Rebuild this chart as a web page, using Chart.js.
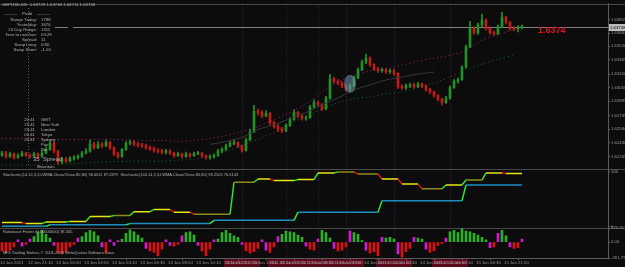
<!DOCTYPE html>
<html><head><meta charset="utf-8">
<script src="https://cdn.jsdelivr.net/npm/chart.js@4.4.0/dist/chart.umd.min.js"></script>
<style>html,body{margin:0;padding:0;background:#0c0c0c;overflow:hidden}</style>
</head><body>
<canvas id="c" width="625" height="267"></canvas>
<script>
// ---------- DATA ----------
const firstOpen = 1.6229;
const closes = [
1.6231,1.6227,1.6230,1.6226,1.6228,1.6231,1.6228,1.6227,1.6230,1.6227,
1.6231,1.6235,1.6242,1.6233,1.6221,1.6224,1.6222,1.6225,1.6226,1.6227,
1.6231,1.6233,1.6241,1.6237,1.6241,1.6239,1.6243,1.6237,1.6230,1.6227,
1.6235,1.6242,1.6243,1.6241,1.6240,1.6239,1.6237,1.6236,1.6234,1.6233,
1.6232,1.6233,1.6231,1.6228,1.6230,1.6227,1.6230,1.6228,1.6230,1.6231,
1.6228,1.6226,1.6227,1.6228,1.6233,1.6235,1.6239,1.6242,1.6243,1.6239,
1.6234,1.6246,1.6255,1.6278,1.6277,1.6273,1.6276,1.6265,1.6261,1.6258,
1.6256,1.6262,1.6269,1.6277,1.6273,1.6270,1.6271,1.6283,1.6288,1.6286,
1.6281,1.6293,1.6315,1.6312,1.6310,1.6307,1.6303,1.6307,1.6316,1.6325,
1.6334,1.6338,1.6331,1.6326,1.6324,1.6325,1.6323,1.6324,1.6321,1.6306,
1.6305,1.6307,1.6308,1.6306,1.6309,1.6307,1.6303,1.6300,1.6296,1.6292,
1.6288,1.6293,1.6305,1.6312,1.6314,1.6328,1.6351,1.6372,1.6367,1.6376,
1.6381,1.6372,1.6367,1.6366,1.6374,1.6385,1.6379,1.6372,1.6371,1.6373,
1.6374];
const highs = [
1.6233,1.6233,1.6232,1.6231,1.6230,1.6233,1.6232,1.6230,1.6232,1.6231,
1.6233,1.6238,1.6245,1.6244,1.6234,1.6226,1.6226,1.6227,1.6228,1.6229,
1.6233,1.6236,1.6246,1.6243,1.6244,1.6243,1.6246,1.6244,1.6238,1.6232,
1.6236,1.6244,1.6246,1.6245,1.6243,1.6242,1.6241,1.6239,1.6238,1.6236,
1.6235,1.6235,1.6235,1.6232,1.6232,1.6231,1.6232,1.6231,1.6232,1.6233,
1.6232,1.6229,1.6229,1.6230,1.6235,1.6237,1.6241,1.6245,1.6246,1.6244,
1.6240,1.6248,1.6258,1.6285,1.6281,1.6279,1.6279,1.6277,1.6267,1.6263,
1.6260,1.6264,1.6271,1.6280,1.6278,1.6275,1.6273,1.6285,1.6291,1.6290,
1.6287,1.6295,1.6320,1.6317,1.6314,1.6312,1.6308,1.6309,1.6318,1.6327,
1.6336,1.6343,1.6340,1.6332,1.6328,1.6327,1.6327,1.6326,1.6326,1.6322,
1.6308,1.6309,1.6310,1.6310,1.6311,1.6310,1.6308,1.6304,1.6301,1.6297,
1.6293,1.6295,1.6307,1.6314,1.6316,1.6330,1.6353,1.6380,1.6374,1.6378,
1.6388,1.6383,1.6374,1.6369,1.6376,1.6390,1.6386,1.6380,1.6374,1.6375,
1.6376];
const lows = [
1.6227,1.6225,1.6226,1.6224,1.6225,1.6227,1.6227,1.6225,1.6226,1.6225,
1.6226,1.6230,1.6234,1.6231,1.6218,1.6219,1.6220,1.6221,1.6223,1.6224,
1.6226,1.6230,1.6232,1.6235,1.6236,1.6237,1.6238,1.6235,1.6228,1.6225,
1.6226,1.6234,1.6240,1.6239,1.6238,1.6237,1.6235,1.6234,1.6232,1.6231,
1.6230,1.6230,1.6229,1.6226,1.6227,1.6225,1.6226,1.6226,1.6227,1.6229,
1.6226,1.6224,1.6224,1.6225,1.6227,1.6231,1.6234,1.6238,1.6240,1.6237,
1.6232,1.6233,1.6245,1.6254,1.6274,1.6271,1.6272,1.6263,1.6259,1.6255,
1.6254,1.6255,1.6261,1.6268,1.6271,1.6268,1.6268,1.6270,1.6282,1.6284,
1.6279,1.6280,1.6292,1.6310,1.6308,1.6305,1.6301,1.6301,1.6306,1.6315,
1.6324,1.6332,1.6329,1.6324,1.6322,1.6322,1.6321,1.6321,1.6319,1.6304,
1.6303,1.6303,1.6305,1.6304,1.6305,1.6305,1.6301,1.6298,1.6294,1.6290,
1.6285,1.6287,1.6292,1.6304,1.6310,1.6313,1.6327,1.6350,1.6365,1.6365,
1.6374,1.6370,1.6365,1.6364,1.6365,1.6373,1.6377,1.6370,1.6369,1.6368,
1.6371];

// moving averages, read at every 4th bar
const maIdx    = [0,4,8,12,16,20,24,28,32,36,40,44,48,52,56,60,64,68,72,76,80,84,88,92,96,100,104,108,112,116,120,124,128];
const maPurple = [1.62474,1.62474,1.62474,1.62463,1.62463,1.62463,1.62463,1.62463,1.62452,1.62452,1.62452,1.62441,1.62452,1.62474,1.62508,1.62553,1.62609,1.62687,1.62766,1.62867,1.63001,1.63113,1.63192,1.63237,1.63259,1.63304,1.63349,1.63382,1.63416,1.63472,1.63584,1.63651,1.63707];
const maGreen  = [1.62172,1.62172,1.62172,1.62178,1.62183,1.62195,1.62206,1.62212,1.62217,1.62217,1.62217,1.62228,1.62239,1.62273,1.62329,1.62396,1.62463,1.62542,1.62642,1.62721,1.62811,1.62878,1.62923,1.62945,1.62979,1.63001,1.63046,1.63102,1.63169,1.63248,1.63315,1.63371,1.63416];
const grayIdx  = [52,56,60,64,68,72,76,80,84,88,92,96,100,104,108];
const maGray   = [1.62407,1.62441,1.62485,1.62575,1.62631,1.62698,1.62766,1.62855,1.62934,1.63024,1.63080,1.63136,1.63169,1.63203,1.63225];

// stochastics (per bar)
const stochFast = [
7,7,7,7,7,7,5,5,5,5,5,8,8,8,8,8,8,9,9,9,9,9,18,18,18,18,18,18,20,20,20,20,20,
27,27,27,27,27,31,31,31,31,31,26,26,26,26,26,22,22,22,22,22,22,22,22,22,22,
81,81,81,81,81,81,87,87,87,87,84,84,84,84,84,84,86,86,86,86,86,98,98,98,98,98,
100,100,100,100,100,96,96,96,96,96,96,87,87,87,87,87,78,78,78,78,78,69,69,69,69,69,69,
76,76,76,76,76,85,85,85,85,85,98,98,98,98,98,97,97,97,97,97];
const stochSlow = [
0,0,0,0,0,0,0,0,0,0,0,0,
3,3,3,3,3,3,3,3,3,3,3,3,3,3,3,3,3,3,3,3,
5,5,5,5,5,5,5,5,5,5,5,5,5,5,5,5,5,5,5,5,5,
11,11,11,11,11,11,11,11,11,11,11,11,11,11,11,11,11,11,11,11,11,
26,26,26,26,26,26,26,26,26,26,26,26,26,26,26,26,26,26,26,26,26,
47,47,47,47,47,47,47,47,47,47,47,47,47,47,47,47,47,47,47,47,47,
76,76,76,76,76,76,76,76,76,76,76,76,76,76,76];

// oscillator histogram (per bar)
const hist = [
-110,-131,-100,-60,30,-50,-30,40,70,130,150,100,50,-40,-130,-150,-120,-60,-30,50,
70,120,150,130,80,-60,-140,30,-40,20,40,110,155,130,90,50,-80,-110,-130,-175,
-90,30,-40,-50,-30,80,120,130,90,-40,-110,-170,-90,30,40,120,150,110,80,60,
-30,-110,-140,-120,-80,30,-100,-130,-60,70,100,140,130,120,90,60,-50,-90,-100,40,
150,120,50,-80,-110,-100,-60,140,120,100,20,-100,-140,-120,-170,60,50,60,40,-150,
-190,-120,-80,60,50,40,-90,-130,-110,-40,-20,50,130,150,120,175,140,130,110,90,
60,30,-70,-60,110,150,80,-60,-80,-70,40];

// axis texts
const priceTicks = [1.63815,1.63664,1.63520,1.63365,1.63200,1.63050,1.62895,1.62735,1.62580,1.62430,1.62265];
const stochTicks = [100, 0];
const histTickLabels = ['170.917','0.00','-261.796'];
const timeLabels = ['10 Jun 2011','12 Jun 21:10','13 Jun 00:50','13 Jun 02:50','13 Jun 04:10','13 Jun 06:30','13 Jun 08:50','13 Jun 10:10',
  '13 Jun 12:30','13 Jun 14:50','13 Jun 17:10','13 Jun 19:30','13 Jun 21:50','14 Jun 00:10','14 Jun 02:30','14 Jun 04:50',
  '14 Jun 07:10','15 Jun 06:30','15 Jun 21:50'];
const sepIdx   = [60, 71, 79, 86, 98, 112];
const sepTimes = ['2011.06.13 20:10','2011.06.14 00:00','2011.06.14 05:00','2011.06.14 09:00','2011.06.14 20:10','2011.06.15 09:00'];
const pivotLineIdx = 6.5;
const highlightBar = 87;

// ---------- STYLE ----------
const UP='#23912a', DN='#c41a1a', BG='#0c0c0c';
const GREEN='#2ee62e', RED='#e01515', YELLOW='#e6e616', OLIVE='#8c8a1c', BLUE='#1c8fc0';
const oliveRuns = [[28,32],[48,57],[58,63],[84,88],[89,94],[105,110],[116,120]];
const isOlive = i => oliveRuns.some(r => i >= r[0] && i < r[1]);

const opens = closes.map((c,i) => i === 0 ? firstOpen : closes[i-1]);
const candleCol = closes.map((c,i) => c >= opens[i] ? UP : DN);
const histCol = hist.map((v,i) => (i>0 && Math.sign(v) !== Math.sign(hist[i-1])) ? '#d21ad2' : (v >= 0 ? '#2fae2a' : '#e00f0f'));

const FONT = 'Liberation Sans';
const tickFont = {family: FONT, size: 4.3};
const TICKC = '#9a9a9a';
const TXT = '#b0b0b0';

const overlay = {
  id: 'overlay',
  beforeDraw(chart) {
    const {ctx, scales:{x, yP, yS, yH}, chartArea:a} = chart;
    ctx.save();
    ctx.fillStyle = BG; ctx.fillRect(0,0,chart.width,chart.height);
    // separators
    ctx.strokeStyle = '#4a1e48'; ctx.lineWidth = 1; ctx.setLineDash([1,2]);
    sepIdx.forEach(i => { const px = Math.round(x.getPixelForValue(i))+0.5; ctx.beginPath(); ctx.moveTo(px, a.top); ctx.lineTo(px, a.bottom); ctx.stroke(); });
    const pl = Math.round(x.getPixelForValue(pivotLineIdx))+0.5;
    ctx.strokeStyle = '#5e5e5e';
    ctx.beginPath(); ctx.moveTo(pl, 8); ctx.lineTo(pl, 165); ctx.stroke();
    ctx.setLineDash([]);
    // pane borders
    ctx.strokeStyle = '#4a4a4a';
    [a.top, yP.bottom, yS.bottom].forEach(y => { ctx.beginPath(); ctx.moveTo(0, Math.round(y)+0.5); ctx.lineTo(chart.width, Math.round(y)+0.5); ctx.stroke(); });
    // current price line
    const cp = Math.round(yP.getPixelForValue(closes[closes.length-1]))+0.5;
    ctx.strokeStyle = '#808080';
    ctx.beginPath(); ctx.moveTo(55,cp); ctx.lineTo(68,cp); ctx.moveTo(73,cp); ctx.lineTo(a.right,cp); ctx.stroke();
    // separator time boxes on the time axis
    ctx.font = `4.3px ${FONT}`; ctx.textBaseline = 'middle'; ctx.textAlign = 'center';
    sepIdx.forEach((i,k) => {
      const px = x.getPixelForValue(i);
      const w = 36;
      ctx.fillStyle = '#5a0a1c'; ctx.fillRect(px - w/2, x.top + 1, w, 8);
      ctx.fillStyle = '#c09098'; ctx.fillText(sepTimes[k], px, x.top + 5);
    });
    ctx.restore();
  },
  afterDatasetsDraw(chart) {
    const {ctx, scales:{x, yP, yS, yH}, chartArea:a} = chart;
    ctx.save();
    // highlight ellipse
    const hx = x.getPixelForValue(highlightBar), hy = yP.getPixelForValue(closes[highlightBar]);
    ctx.fillStyle = 'rgba(110,150,175,0.55)';
    ctx.beginPath(); ctx.ellipse(hx, hy-2, 6, 9, 0, 0, Math.PI*2); ctx.fill();
    // bid label
    const lx = x.getPixelForValue(closes.length-1), ly = yP.getPixelForValue(closes[closes.length-1]);
    ctx.fillStyle = '#e0141e'; ctx.font = `bold 9px ${FONT}`; ctx.textBaseline = 'middle'; ctx.textAlign='left';
    ctx.fillText(closes[closes.length-1].toFixed(4), lx + 16, ly + 4);
    // price box on axis
    ctx.fillStyle = '#bdbdbd'; ctx.fillRect(a.right+1, Math.round(ly)-3, 16, 7);
    ctx.fillStyle = '#000'; ctx.font = `4.3px ${FONT}`;
    ctx.fillText('1.63738', a.right+2, Math.round(ly)+0.5);
    // info block
    ctx.fillStyle = TXT; ctx.font = `4.3px ${FONT}`; ctx.textAlign='left';
    ctx.fillText('GBPUSD,M5  1.63729 1.63748 1.63711 1.63738', 2, 5);
    ctx.textAlign = 'center'; ctx.fillText('———    Profit    ———', 27, 14);
    const infoL = ['Range Today:','Yesterday:','20 Day Range:','Time to next bar:','Spread:','Swap Long:','Swap Short:'];
    const infoV = ['1788','1676','1311','03:29','11','0.80','-1.00'];
    infoL.forEach((t,k) => { ctx.textAlign='right'; ctx.fillText(t, 37, 19.5+k*5.1); ctx.textAlign='left'; ctx.fillText(infoV[k], 41, 19.5+k*5.1); });
    // session clocks
    const clkT = ['20:41','15:41','20:41','05:41','20:41','',''];
    const clkN = ['GMT','New York','London','Tokyo','Sydney','Pair','Bar'];
    clkN.forEach((t,k) => { ctx.textAlign='right'; ctx.fillText(clkT[k], 35, 120+k*5); ctx.textAlign='left'; ctx.fillText(t, 41, 120+k*5); });
    ctx.font = `6px ${FONT}`; ctx.textAlign='left';
    ctx.fillText('35  Spread', 33, 159);
    ctx.font = `4.3px ${FONT}`;
    ctx.fillText('Mountain', 37, 167);
    // indicator captions
    ctx.fillStyle = TXT; ctx.font = `4px ${FONT}`;
    ctx.fillText('Stochastic(14,14,3,3,LWMA,Close/Close,80,80) 96.6611 87.2879  Stochastic(144,14,3,3,LWMA,Close/Close,80,80) 98.2505 76.6143', 3, yS.top + 6);
    ctx.fillText('Ratiowave Finder (0.00000000) 38.345', 3, yH.top + 4);
    ctx.fillText('MIG Trading Station, © 2001-2009 MetaQuotes Software Corp.', 3, yH.bottom - 5);
    ctx.restore();
  }
};

const yAxisBase = (weight, stackWeight) => ({
  position: 'right', stack: 'panes', stackWeight, weight, offset: false,
  grid: {drawOnChartArea: false, drawTicks: true, tickLength: 2, color: '#6a6a6a'},
  border: {display: true, color: '#5a5a5a'},
  ticks: {color: TICKC, font: tickFont, padding: 1, autoSkip: false},
  afterFit: s => { s.width = 17; }
});

new Chart(document.getElementById('c'), {
  type: 'bar',
  data: {
    datasets: [
      {type:'line', label:'MA purple', data: maIdx.map((ix,k)=>({x:ix,y:maPurple[k]})), yAxisID:'yP', borderColor:'#a0217e', borderWidth:1, borderDash:[1,3], pointRadius:0, tension:0.3},
      {type:'line', label:'MA green', data: maIdx.map((ix,k)=>({x:ix,y:maGreen[k]})), yAxisID:'yP', borderColor:'#1c6a1c', borderWidth:1, borderDash:[1,3], pointRadius:0, tension:0.3},
      {type:'line', label:'MA gray', data: grayIdx.map((ix,k)=>({x:ix,y:maGray[k]})), yAxisID:'yP', borderColor:'#363636', borderWidth:1, pointRadius:0, tension:0.3},
      {label:'body', data: closes.map((c,i)=>({x:i, y:[opens[i], c]})), backgroundColor: candleCol, barThickness:2, grouped:false, minBarLength:1, yAxisID:'yP'},
      {label:'wick', data: closes.map((c,i)=>({x:i, y:[lows[i], highs[i]]})), backgroundColor: candleCol, barThickness:1, grouped:false, yAxisID:'yP'},
      {type:'line', label:'Stoch fast', data: stochFast.map((v,i)=>({x:i,y:v})), yAxisID:'yS', borderWidth:1.5, pointRadius:0,
        segment:{borderColor: c => { const p=c.p0.parsed.y, q=c.p1.parsed.y; return q>p ? GREEN : q<p ? RED : (isOlive(c.p0DataIndex) ? OLIVE : YELLOW); }}},
      {type:'line', label:'Stoch slow', data: stochSlow.map((v,i)=>({x:i,y:v})), yAxisID:'yS', borderWidth:1.5, pointRadius:0,
        segment:{borderColor: c => c.p1.parsed.y > c.p0.parsed.y ? GREEN : BLUE}},
      {label:'hist', data: hist.map((v,i)=>({x:i,y:v})), backgroundColor: histCol, barThickness:2, grouped:false, yAxisID:'yH'}
    ]
  },
  options: {
    responsive: false, animation: false, devicePixelRatio: 1,
    layout: {padding: {top: 1, left: 0, right: 0, bottom: 0}},
    plugins: {legend: {display: false}, tooltip: {enabled: false}},
    scales: {
      x: {type:'linear', min:-0.5, max:151.5, offset:false,
          grid:{drawOnChartArea:false, drawTicks:true, tickLength:2, color:'#6a6a6a'},
          border:{display:true, color:'#5a5a5a'},
          afterBuildTicks: s => { s.ticks = timeLabels.map((t,k)=>({value: k*7 - 0.5})); },
          ticks:{autoSkip:false, maxRotation:0, minRotation:0, align:'start', padding:0, color:TICKC, font:tickFont,
                 callback:(v,idx)=>timeLabels[idx]},
          afterFit: s => { s.height = 9; }},
      yP: Object.assign(yAxisBase(1, 167), {min:1.6213, max:1.6400,
          afterBuildTicks: s => { s.ticks = priceTicks.map(v=>({value:v})); },
          ticks:{color:TICKC, font:tickFont, padding:1, autoSkip:false, callback: v => v.toFixed(5)}}),
      yS: Object.assign(yAxisBase(2, 60), {min:-3.6, max:105.5,
          afterBuildTicks: s => { s.ticks = stochTicks.map(v=>({value:v})); },
          ticks:{color:TICKC, font:tickFont, padding:1, autoSkip:false, callback: v => String(v)}}),
      yH: Object.assign(yAxisBase(3, 30), {min:-200, max:175,
          afterBuildTicks: s => { s.ticks = [s.max, 0, s.min].map(v=>({value:v})); },
          ticks:{color:TICKC, font:tickFont, padding:1, autoSkip:false, callback: (v,idx) => histTickLabels[idx]}})
    }
  },
  plugins: [overlay]
});
</script>
</body></html>
